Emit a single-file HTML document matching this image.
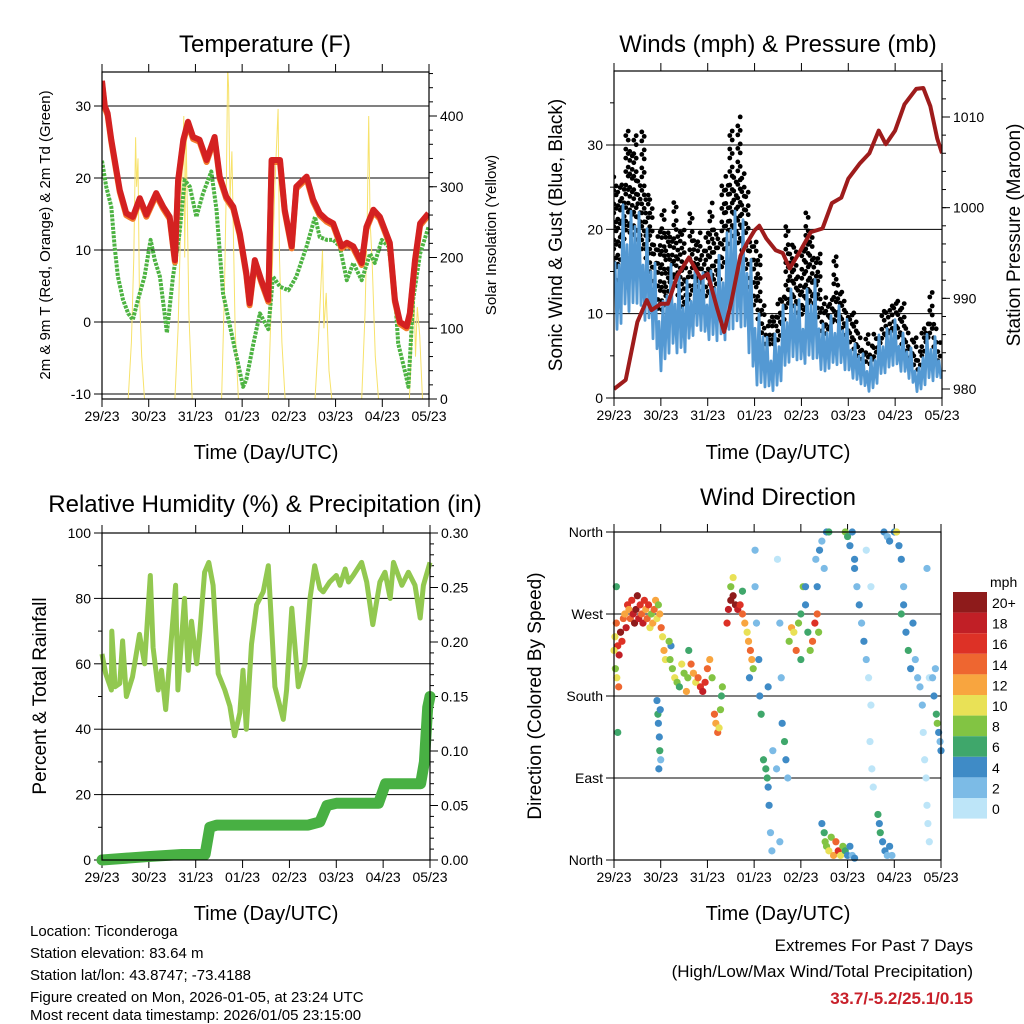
<!DOCTYPE html>
<html><head><meta charset="utf-8"><style>
html,body{margin:0;padding:0;background:#fff;}
svg{display:block;font-family:"Liberation Sans",sans-serif;}
</style></head><body>
<svg id="fig" width="1024" height="1024" viewBox="0 0 1024 1024" xmlns="http://www.w3.org/2000/svg">
<defs>
<clipPath id="cpT"><rect x="102" y="72" width="327" height="327"/></clipPath>
<clipPath id="cpW"><rect x="614" y="71" width="328" height="327"/></clipPath>
<clipPath id="cpR"><rect x="102" y="533" width="328" height="327"/></clipPath>
<clipPath id="cpD"><rect x="610" y="528" width="335" height="336"/></clipPath>
</defs>
<rect x="0" y="0" width="1024" height="1024" fill="#fff"/>
<text x="265" y="52" font-size="24" text-anchor="middle">Temperature (F)</text>
<text x="778" y="52" font-size="24" text-anchor="middle">Winds (mph) &amp; Pressure (mb)</text>
<text x="265" y="512" font-size="24" text-anchor="middle">Relative Humidity (%) &amp; Precipitation (in)</text>
<text x="778" y="505" font-size="24" text-anchor="middle">Wind Direction</text>
<text x="266" y="459" font-size="20" text-anchor="middle">Time (Day/UTC)</text>
<text x="778" y="459" font-size="20" text-anchor="middle">Time (Day/UTC)</text>
<text x="266" y="920" font-size="20" text-anchor="middle">Time (Day/UTC)</text>
<text x="778" y="920" font-size="20" text-anchor="middle">Time (Day/UTC)</text>
<text transform="translate(50,235) rotate(-90)" font-size="15" text-anchor="middle">2m &amp; 9m T (Red, Orange) &amp; 2m Td (Green)</text>
<text transform="translate(496,235) rotate(-90)" font-size="15" text-anchor="middle">Solar Insolation (Yellow)</text>
<text transform="translate(562,235) rotate(-90)" font-size="19" text-anchor="middle">Sonic Wind &amp; Gust (Blue, Black)</text>
<text transform="translate(1020,235) rotate(-90)" font-size="19" text-anchor="middle">Station Pressure (Maroon)</text>
<text transform="translate(46,696) rotate(-90)" font-size="19" text-anchor="middle">Percent &amp; Total Rainfall</text>
<text transform="translate(541,696) rotate(-90)" font-size="19" text-anchor="middle">Direction (Colored By Speed)</text>
<g font-size="15">
<text x="30" y="936">Location: Ticonderoga</text>
<text x="30" y="958">Station elevation: 83.64 m</text>
<text x="30" y="980">Station lat/lon: 43.8747; -73.4188</text>
<text x="30" y="1002">Figure created on Mon, 2026-01-05, at 23:24 UTC</text>
<text x="30" y="1020">Most recent data timestamp: 2026/01/05 23:15:00</text>
</g>
<text x="973" y="951" font-size="17" text-anchor="end">Extremes For Past 7 Days</text>
<text x="973" y="977" font-size="17" text-anchor="end">(High/Low/Max Wind/Total Precipitation)</text>
<text x="973" y="1004" font-size="17" font-weight="bold" fill="#c8202a" text-anchor="end">33.7/-5.2/25.1/0.15</text>
<text x="990" y="587" font-size="14">mph</text>
</svg>
<script>
const dayLabels=["29/23","30/23","31/23","01/23","02/23","03/23","04/23","05/23"];
// Temperature (days since start, deg F)
const tempT=[0,0.06,0.12,0.2,0.31,0.38,0.52,0.66,0.81,0.95,1.16,1.31,1.45,1.56,1.63,1.74,1.84,1.95,2.09,2.24,2.41,2.52,2.66,2.81,2.95,3.09,3.16,3.27,3.41,3.56,3.63,3.81,3.91,4.06,4.16,4.38,4.52,4.66,4.81,4.95,5.13,5.24,5.38,5.56,5.66,5.81,5.95,6.16,6.27,6.38,6.52,6.59,6.7,6.81,6.99];
const tempV=[33.5,30,29,25.3,21,18.3,15.1,14.6,17.2,14.9,17.9,16,14.6,8.6,19.7,25.3,27.8,25.7,25.3,22.5,25.7,20.2,17.4,16,12.3,6.8,2.6,8.6,5.8,3.1,22.5,22.5,15.6,10.5,18.8,20.2,17,15.1,14.2,13.7,10.5,11,10.5,8.2,13.2,15.6,14.6,11,3.1,0,-0.6,1.2,8.6,13.7,15.1];
const dewT=[0,0.09,0.2,0.27,0.34,0.45,0.56,0.66,0.77,0.91,1.04,1.13,1.24,1.34,1.39,1.52,1.66,1.77,1.88,2.02,2.16,2.34,2.45,2.59,2.74,2.88,3.02,3.09,3.24,3.38,3.56,3.66,3.81,3.99,4.16,4.38,4.56,4.66,4.81,4.95,5.09,5.24,5.38,5.56,5.74,5.84,5.99,6.13,6.27,6.34,6.49,6.56,6.66,6.81,6.99];
const dewV=[22.4,18.8,16,10.5,6.3,3.1,1.2,0.3,3.1,6.3,11.4,8.6,6.3,1.2,-1.5,6.3,12.3,19.7,18.8,14.6,17.8,20.9,15.6,4,-0.6,-4.8,-9,-8,-3,1.2,-1,6.3,4.9,4.4,6.3,10.5,14.6,11.8,11.4,11.4,10.5,5.8,8.2,5.8,9.5,8.2,11.4,10.5,4,-3,-7,-9,3.1,9.5,13.2];
const solarT=[0,0.56,0.63,0.68,0.72,0.74,0.77,0.8,0.85,0.91,1.56,1.63,1.69,1.75,1.77,1.8,1.86,1.93,2.56,2.62,2.66,2.69,2.71,2.74,2.78,2.85,2.92,3.56,3.63,3.7,3.77,3.8,3.85,3.92,4.56,4.63,4.68,4.72,4.75,4.8,4.86,4.92,5.56,5.63,5.68,5.71,5.74,5.78,5.85,5.92,6.58,6.64,6.68,6.71,6.75,6.8,6.86,7.0];
const solarV=[0,0,80,200,370,300,340,150,60,0,0,100,260,400,200,380,120,0,0,150,300,470,440,280,350,100,0,0,150,300,410,200,80,0,0,80,150,210,100,150,40,0,0,120,260,400,250,200,60,0,0,100,150,60,130,90,0,0];
// Winds (mph) sampled every quarter day
const windT=[0,0.25,0.5,0.75,1,1.25,1.5,1.75,2,2.25,2.5,2.75,3,3.25,3.5,3.75,4,4.25,4.5,4.75,5,5.25,5.5,5.75,6,6.25,6.5,6.75,7];
const windHi=[16,25,24,20,12,18,13,17,15,17,25,22,14,8,8,15,12,15,9,12,9,6,5,9,10,7,4,10,4];
const windLo=[5,8,9,7,2,4,4,7,6,5,5,7,0,0,0,3,3,3,2,3,2,1,0,2,3,2,0,1,2];
const gustHi=[26,34,37,30,22,27,24,24,23,24,36,35,22,10,13,25,20,25,13,19,12,9,8,11,15,10,8,14,6];
const presT=[0,0.25,0.5,0.7,0.8,1.0,1.15,1.35,1.6,1.85,2.0,2.2,2.35,2.5,2.7,2.85,3.0,3.1,3.25,3.45,3.6,3.75,3.95,4.2,4.45,4.65,4.85,5.0,5.25,5.45,5.65,5.8,6.0,6.2,6.45,6.6,6.75,6.9,7.0];
const presV=[980,981,987.4,989.8,988.7,989.4,989.4,992.5,994.5,992.2,992.7,988.9,986.3,989.5,994.7,996.2,997.5,998,996.6,995.3,995,993.3,995,997.3,997.7,1000.5,1001.1,1003.2,1004.9,1006,1008.5,1007,1008.5,1011.4,1013.1,1013.2,1011.2,1007.6,1006];
// RH & precip
const rhT=[0,0.08,0.2,0.21,0.28,0.38,0.44,0.52,0.65,0.8,0.91,1.03,1.09,1.2,1.27,1.36,1.45,1.57,1.62,1.76,1.84,1.91,2.02,2.09,2.19,2.28,2.37,2.48,2.62,2.73,2.83,2.94,3.01,3.08,3.19,3.3,3.44,3.55,3.69,3.87,3.94,4.05,4.19,4.33,4.44,4.54,4.65,4.72,4.86,5.0,5.08,5.19,5.26,5.36,5.54,5.65,5.78,5.93,6.04,6.15,6.22,6.4,6.54,6.68,6.79,6.86,7.0];
const rhV=[63,57,52,70,53,54,67,50,56,69,60,87,65,52,58,46,62,84,52,80,58,73,60,70,88,91,84,57,52,47,38,45,58,40,66,78,82,90,53,43,52,77,53,60,80,90,83,82,85,87,84,89,85,87,91,85,72,85,88,80,91,84,88,84,74,84,91];
const pcpT=[0,0.95,1.7,2.2,2.3,2.45,4.4,4.65,4.8,5.0,5.9,6.05,6.8,6.88,6.95,7.0];
const pcpV=[0,0.003,0.005,0.005,0.03,0.032,0.032,0.035,0.05,0.052,0.052,0.07,0.07,0.09,0.14,0.15];
// Wind direction scatter: time (days), direction (deg), speed (mph)
const dirT=[0.02,0.05,0.08,0.11,0.14,0.17,0.2,0.23,0.26,0.29,0.32,0.35,0.38,0.41,0.44,0.47,0.5,0.53,0.56,0.59,0.62,0.65,0.68,0.71,0.74,0.77,0.8,0.83,0.86,0.89,0.92,0.95,0.98,1.01,1.04,1.07,1.1,
0.0,0.03,0.06,0.05,0.08,0.1,
0.92,0.94,0.95,0.97,0.98,1.0,0.99,0.96,
1.2,1.25,1.3,1.35,1.4,1.45,1.5,1.55,1.22,1.18,1.58,1.6,
1.65,1.7,1.75,1.8,1.85,1.9,1.95,2.0,2.05,2.1,2.15,2.18,2.22,2.25,2.28,2.3,2.32,
2.42,2.45,2.5,2.55,2.6,2.65,2.7,2.75,2.8,2.85,2.88,2.92,2.95,2.98,2.5,2.55,2.75,2.9,
3.02,3.05,3.1,3.12,3.15,3.2,3.25,3.28,3.3,3.32,3.35,3.38,3.4,3.3,3.02,
3.5,3.55,3.58,3.6,3.65,3.68,3.72,3.48,3.55,
3.75,3.8,3.85,3.9,3.95,4.0,4.05,4.1,4.15,4.2,4.25,4.3,4.35,4.38,4.0,4.1,
4.32,4.35,4.4,4.45,4.5,4.55,4.6,
4.45,4.5,4.52,4.55,4.6,4.65,4.7,4.75,4.8,4.85,4.9,4.95,5.0,5.05,5.1,5.15,
4.95,5.0,5.05,5.1,5.15,
5.15,5.2,5.25,5.3,5.35,5.4,5.45,5.5,5.48,5.52,5.55,5.5,5.4,
5.65,5.68,5.7,5.75,5.8,5.85,5.9,5.95,
5.78,5.85,5.9,6.0,6.05,6.1,6.15,6.2,
6.15,6.2,6.25,6.3,6.35,6.4,6.45,6.5,6.55,6.6,
6.62,6.65,6.68,6.7,6.72,6.75,6.7,6.75,
6.82,6.85,6.9,6.92,6.95,6.98,7.0,6.88];
const dirV=[245,260,235,225,250,240,265,270,255,280,275,265,285,270,260,275,290,265,280,270,260,285,275,265,280,255,270,260,275,285,265,280,270,255,245,230,220,
230,210,200,300,140,190,
175,160,150,135,120,110,165,100,
220,210,200,195,190,215,205,185,235,240,200,230,
215,205,195,200,190,185,195,210,220,200,160,150,140,145,165,180,190,
260,275,285,290,280,275,280,270,260,250,240,230,220,210,300,310,295,200,
300,260,220,180,160,110,100,90,80,60,30,10,120,190,340,
330,260,200,150,130,110,90,100,20,
240,255,250,230,260,270,300,280,250,230,240,260,270,250,220,300,
330,300,340,350,320,360,360,
40,30,20,15,10,25,5,20,10,5,15,10,5,15,5,2,
360,355,345,360,330,
320,300,280,260,240,220,200,170,130,100,80,300,340,
50,40,30,20,10,5,15,5,
360,355,350,360,360,345,330,300,
270,280,250,230,210,260,220,200,190,170,
140,110,90,60,40,20,320,200,
200,180,160,150,140,130,120,210];
const dirS=[10,14,16,18,20,16,14,12,18,16,12,14,16,18,20,20,22,18,16,14,18,16,12,14,16,10,8,12,14,12,10,8,12,14,10,12,10,
10,8,10,6,6,14,
4,6,5,4,6,3,4,5,
8,9,10,8,7,10,9,12,4,8,8,6,
14,12,10,14,16,18,16,14,12,8,14,12,14,10,8,6,8,
16,18,20,22,20,18,16,14,12,10,12,14,12,8,8,10,6,4,
3,3,4,4,6,6,7,7,4,4,3,3,2,4,2,
1,2,2,4,6,4,3,2,2,
8,12,10,14,8,6,8,4,6,8,14,16,14,8,6,4,
2,4,4,2,3,4,6,
4,6,8,8,10,8,12,14,16,10,8,6,4,4,2,4,
8,6,4,4,4,
4,2,4,2,4,2,1,1,1,1,1,1,1,
6,4,6,4,4,3,4,2,
4,2,4,4,10,4,4,2,
6,4,4,6,4,4,2,2,2,2,
1,1,1,1,1,1,2,1,
3,4,6,8,4,2,4,2];
const cbLabels=["20+","18","16","14","12","10","8","6","4","2","0"];
const cbColors=["#8e1b1b","#c11f26","#dd3126","#ee6630","#f8a53f","#e9e156","#82c443","#3fa76b","#3f8bc6","#7cbbe6","#bde5f8"];

const NS="http://www.w3.org/2000/svg";
const svg=document.getElementById("fig");
function mk(tag,attrs,parent){const e=document.createElementNS(NS,tag);for(const k in attrs)e.setAttribute(k,attrs[k]);(parent||svg).appendChild(e);return e;}
function xs(x0,x1){return t=>x0+(x1-x0)*t/7;}
function ys(y0,y1,v0,v1){return v=>y0+(y1-y0)*(v-v0)/(v1-v0);}
function pathOf(ts,vs,X,Y){return ts.map((t,i)=>(i?"L":"M")+X(t).toFixed(1)+","+Y(vs[i]).toFixed(1)).join("");}
function interp(ts,vs,t){if(t<=ts[0])return vs[0];for(let i=1;i<ts.length;i++){if(t<=ts[i]){const f=(t-ts[i-1])/(ts[i]-ts[i-1]);return vs[i-1]+f*(vs[i]-vs[i-1]);}}return vs[vs.length-1];}

function frame(x0,x1,y0,y1,name){
  const g=mk("g",{});
  
  
  const X=xs(x0,x1);
  dayLabels.forEach((lab,i)=>{
    const x=X(i);
    const tk=mk("line",{x1:x,x2:x,y1:y1,y2:y1+8,stroke:"#000","stroke-width":1},g);
    
    
    const tt=mk("line",{x1:x,x2:x,y1:y0,y2:y0-8,stroke:"#000","stroke-width":1},g);
    
    
    const tx=mk("text",{x:x,y:y1+22,"font-size":14,"text-anchor":"middle"},g);
    tx.textContent=lab;
    
    
  });
}
function box(x0,x1,y0,y1){
  const r=mk("rect",{x:x0,y:y0,width:x1-x0,height:y1-y0,fill:"none",stroke:"#000","stroke-width":1.2});
  
  
}
function yTicks(vals,labels,Y,x,side,grid,x0,x1,name){
  vals.forEach((v,i)=>{
    const y=Y(v);
    if(grid){const gl=mk("line",{x1:x0,x2:x1,y1:y,y2:y,stroke:"#000","stroke-width":1});
      
      }
    const tk=mk("line",{x1:x,x2:x+(side<0?-8:8),y1:y,y2:y,stroke:"#000","stroke-width":1});
    
    
    const tx=mk("text",{x:x+(side<0?-11:11),y:y+5,"font-size":14,"text-anchor":side<0?"end":"start"});
    tx.textContent=labels[i];
    
    
  });
}
function minor(vals,Y,x){vals.forEach(v=>{const y=Y(v);const m=mk("line",{x1:x,x2:x+4,y1:y,y2:y,stroke:"#000","stroke-width":1});
  
  });}

// ---- Temperature panel
(function(){
  const x0=102,x1=429,y0=72,y1=399;
  const X=xs(x0,x1),Y=ys(322,250,0,10),S=ys(399,116,0,400);
  frame(x0,x1,y0,y1,"temp");
  yTicks([30,20,10,0,-10],["30","20","10","0","-10"],Y,x0,-1,true,x0,x1,"temp-y");
  yTicks([400,300,200,100,0],["400","300","200","100","0"],S,x1,1,false,x0,x1,"solar-y");
  const mv=[];for(let v=0;v<=460;v+=20)mv.push(v);minor(mv,S,x1);
  const g=mk("g",{"clip-path":"url(#cpT)"});
  
  
  const sol=mk("path",{d:pathOf(solarT,solarV,X,S),fill:"none",stroke:"#f7e26b","stroke-width":1},g);
  
  
  const dew=mk("path",{d:pathOf(dewT,dewV,X,Y),fill:"none",stroke:"#4db342","stroke-width":4,"stroke-dasharray":"3 1.2","stroke-linejoin":"round"},g);
  
  
  const or=mk("path",{d:pathOf(tempT,tempV,X,Y),fill:"none",stroke:"#f47a2b","stroke-width":6,"stroke-linejoin":"round",transform:"translate(0,2)"},g);
  
  
  const red=mk("path",{d:pathOf(tempT,tempV,X,Y),fill:"none",stroke:"#d42121","stroke-width":6,"stroke-linejoin":"round"},g);
  
  
  box(x0,x1,y0,y1);
})();

// ---- Winds panel
(function(){
  const x0=614,x1=942,y0=71,y1=398;
  const X=xs(x0,x1),Y=ys(398,145,0,30),P=ys(389,117,980,1010);
  frame(x0,x1,y0,y1,"winds");
  yTicks([30,20,10,0],["30","20","10","0"],Y,x0,-1,true,x0,x1,"wind-y");
  yTicks([1010,1000,990,980],["1010","1000","990","980"],P,x1,1,false,x0,x1,"pressure-y");
  const mv=[];for(let v=980;v<=1014;v+=2)mv.push(v);minor(mv,P,x1);
  [5,15,25,35].forEach(v=>{const y=Y(v);const m=mk("line",{x1:x0,x2:x0-4,y1:y,y2:y,stroke:"#000"});});
  const cg=mk("g",{"clip-path":"url(#cpW)"});
  
  
  const gg=mk("g",{fill:"#000"},cg);
  
  
  const pat=[1,0.55,0.3,0.75,0.45,0.62,0.2,0.85,0.38,0.5,0.25,0.68];
  let j=0;
  for(let px=x0+1;px<=x1;px+=4,j++){
    const t=(px-x0)/(x1-x0)*7;
    const gh=interp(windT,gustHi,t),wh=interp(windT,windHi,t);
    const top=Y(wh+(gh-wh)*pat[j%12]),bot=Y(wh*0.8);
    let k=0;
    for(let y=bot;y>=top;y-=(k%3===2?9:4.5),k++){
      const c=mk("circle",{cx:px+((k%2)?1.2:-1.2),cy:y.toFixed(1),r:2.4},gg);
      
      
    }
  }
  const bp=[0.95,0.7,1,0.6,0.85,0.75,0.9,0.55];
  let d="";j=0;
  for(let px=x0+1;px<=x1;px+=2,j++){
    const t=(px-x0)/(x1-x0)*7;
    const wh=interp(windT,windHi,t),wl=interp(windT,windLo,t);
    const v=(j%2===0)?wl+(wh-wl)*bp[(j/2)%8]:wl+(wh-wl)*0.2*bp[((j-1)/2)%8];
    d+=(j?"L":"M")+px.toFixed(1)+","+Y(v).toFixed(1);
  }
  const wl=mk("path",{d:d,fill:"none",stroke:"#5499d3","stroke-width":2.8,"stroke-linejoin":"round"},cg);
  
  
  const pl=mk("path",{d:pathOf(presT,presV,X,P),fill:"none",stroke:"#9e1c1c","stroke-width":4,"stroke-linejoin":"round"},cg);
  
  
  box(x0,x1,y0,y1);
})();

// ---- RH panel
(function(){
  const x0=102,x1=430,y0=533,y1=860;
  const X=xs(x0,x1),Y=ys(860,533,0,100),R=ys(860,533,0,0.30);
  frame(x0,x1,y0,y1,"rh");
  yTicks([100,80,60,40,20,0],["100","80","60","40","20","0"],Y,x0,-1,true,x0,x1,"rh-y");
  yTicks([0.30,0.25,0.20,0.15,0.10,0.05,0.00],["0.30","0.25","0.20","0.15","0.10","0.05","0.00"],R,x1,1,false,x0,x1,"precip-y");
  const mv=[];for(let v=0;v<=0.30;v+=0.01)mv.push(v);minor(mv,R,x1);
  [10,30,50,70,90].forEach(v=>{const y=Y(v);const m=mk("line",{x1:x0,x2:x0-4,y1:y,y2:y,stroke:"#000"});});
  const rl=mk("path",{d:pathOf(rhT,rhV,X,Y),fill:"none",stroke:"#92c850","stroke-width":5,"stroke-linejoin":"round"});
  
  
  const pl=mk("path",{d:pathOf(pcpT,pcpV,X,R),fill:"none",stroke:"#48b043","stroke-width":11,"stroke-linejoin":"round","stroke-linecap":"round"});
  
  
  box(x0,x1,y0,y1);
})();

// ---- Wind direction panel
(function(){
  const x0=614,x1=941,y0=532,y1=860;
  const X=xs(x0,x1),Y=ys(860,532,0,360);
  frame(x0,x1,y0,y1,"dir");
  yTicks([360,270,180,90,0],["North","West","South","East","North"],Y,x0,-1,true,x0,x1,"dir-y");
  function col(s){const idx=Math.min(10,Math.floor(s/2));return cbColors[10-idx];}
  const g=mk("g",{"clip-path":"url(#cpD)"});
  
  
  dirT.forEach((t,i)=>{
    const c=mk("circle",{cx:X(t),cy:Y(dirV[i]),r:3.6,fill:col(dirS[i])},g);
    
    
  });
  box(x0,x1,y0,y1);
  const cb=mk("g",{});
  
  
  cbLabels.forEach((lab,i)=>{
    const y=592+i*20.6;
    const r=mk("rect",{x:953,y:y,width:34,height:20.6,fill:cbColors[i]},cb);
    
    
    const tx=mk("text",{x:992,y:y+16,"font-size":14},cb);
    tx.textContent=lab;
    
    
  });
})();
</script>
</body></html>
